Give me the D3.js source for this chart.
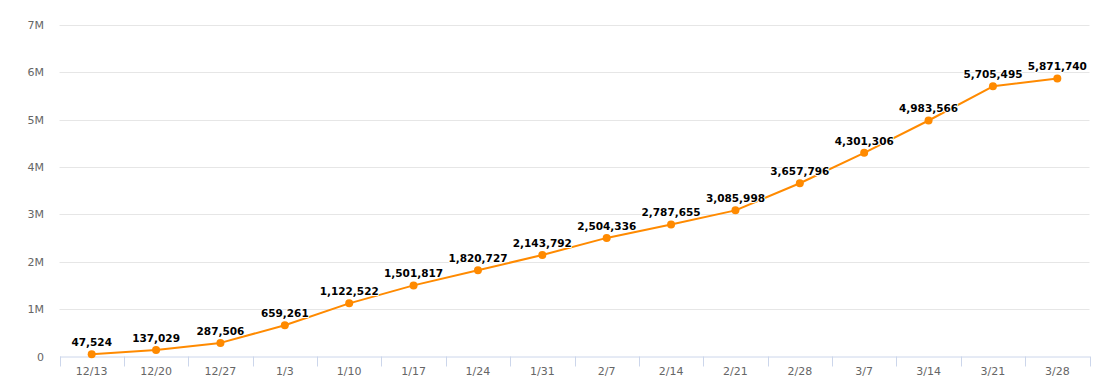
<!DOCTYPE html>
<html><head><meta charset="utf-8">
<script src="https://cdn.jsdelivr.net/npm/d3@7"></script>
<style>body{margin:0;background:#fff}svg{display:block}</style>
</head><body>
<svg id="chart" width="1104" height="382"></svg>
<script>
const categories = ["12/13","12/20","12/27","1/3","1/10","1/17","1/24","1/31","2/7","2/14","2/21","2/28","3/7","3/14","3/21","3/28"];
const values = [47524,137029,287506,659261,1122522,1501817,1820727,2143792,2504336,2787655,3085998,3657796,4301306,4983566,5705495,5871740];
const yTicks = [0,1000000,2000000,3000000,4000000,5000000,6000000,7000000];
const yTickLabels = ["0","1M","2M","3M","4M","5M","6M","7M"];

(function () {
const svg = d3.select("#chart");
const plotLeft = 59.5, plotRight = 1089.5, plotTop = 25, plotBottom = 356.5;
const font = "'DejaVu Sans', Verdana, sans-serif";

const x = d3.scaleBand().domain(categories).range([plotLeft, plotRight]);
const y = d3.scaleLinear().domain([0, 7000000]).range([plotBottom, plotTop]);

// grid
svg.append("g").selectAll("line").data(yTicks.slice(1)).join("line")
  .attr("x1", plotLeft).attr("x2", plotRight)
  .attr("y1", d => Math.round(y(d)) + 0.5).attr("y2", d => Math.round(y(d)) + 0.5)
  .attr("stroke", "#e6e6e6").attr("stroke-width", 1);

// y labels
svg.append("g").selectAll("text").data(yTicks).join("text")
  .attr("x", 44).attr("y", d => y(d) + 4)
  .attr("text-anchor", "end")
  .attr("font-family", font).attr("font-size", 11).attr("fill", "#666666")
  .text((d, i) => yTickLabels[i]);

// x axis
const xAxis = d3.axisBottom(x).tickSizeInner(0).tickSizeOuter(0).tickPadding(0);
const gx = svg.append("g").attr("transform", `translate(0,${plotBottom})`).call(xAxis);
gx.select(".domain").attr("stroke", "#ccd6eb");
gx.selectAll(".tick text").attr("y", 18).attr("dy", null)
  .attr("font-family", font).attr("font-size", 11).attr("fill", "#666666");
// boundary ticks
const bounds = categories.map(c => x(c)).concat([x(categories[categories.length - 1]) + x.bandwidth()]);
svg.append("g").selectAll("line").data(bounds).join("line")
  .attr("x1", d => Math.round(d) + 0.5).attr("x2", d => Math.round(d) + 0.5)
  .attr("y1", plotBottom).attr("y2", plotBottom + 10)
  .attr("stroke", "#ccd6eb");

const cx = c => x(c) + x.bandwidth() / 2;
const color = "#ff8a00";

// line
const line = d3.line().x((d, i) => cx(categories[i])).y(d => y(d));
svg.append("path").datum(values).attr("d", line)
  .attr("fill", "none").attr("stroke", color).attr("stroke-width", 2)
  .attr("stroke-linejoin", "round").attr("stroke-linecap", "round");

// markers
svg.append("g").selectAll("circle").data(values).join("circle")
  .attr("cx", (d, i) => cx(categories[i])).attr("cy", d => y(d)).attr("r", 4)
  .attr("fill", color);

// data labels
const fmt = d3.format(",");
svg.append("g").selectAll("text").data(values).join("text")
  .attr("x", (d, i) => cx(categories[i])).attr("y", d => y(d) - 8)
  .attr("text-anchor", "middle")
  .attr("font-family", font).attr("font-size", 10.5).attr("font-weight", "bold")
  .attr("fill", "#000").attr("stroke", "#fff").attr("stroke-width", 2)
  .attr("stroke-linejoin", "round").attr("paint-order", "stroke")
  .text(d => fmt(d));
})();
</script>
</body></html>
